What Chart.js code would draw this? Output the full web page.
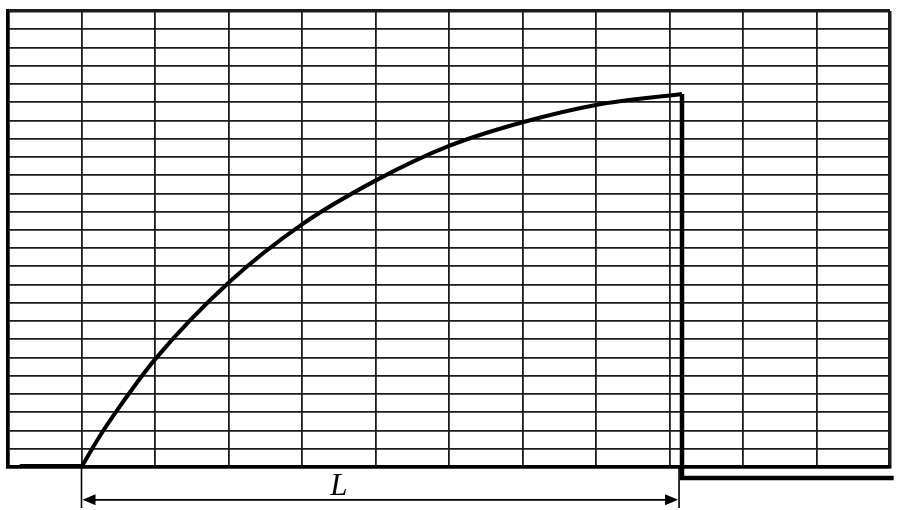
<!DOCTYPE html>
<html>
<head>
<meta charset="utf-8">
<script src="https://cdn.jsdelivr.net/npm/chart.js@4/dist/chart.umd.min.js"></script>
<style>
  html, body { margin: 0; padding: 0; background: #ffffff; }
  #wrap { width: 908px; height: 510px; }
</style>
</head>
<body>
<div id="wrap"><canvas id="c" width="908" height="510"></canvas></div>
<script>
// ---- data (grid units: 12 columns x 25 rows) ----
const xMin = 0, xMax = 12;
const yMin = 0, yMax = 25;

const curveX = [1, 1.25, 1.5, 2, 3, 4, 5, 6, 7, 8, 9.17];
const curveY = [0, 1.7, 3.2, 5.9, 10.1, 13.3, 15.7, 17.6, 18.9, 19.85, 20.45];

const leadX = [0.16, 1];
const leadY = [0.05, 0.05];

const dropX = [9.17, 9.17, 12.05];
const dropY = [20.45, -0.6, -0.6];

const dimX = [1.0, 9.13];      // dimension arrow ends
const dimY = [-1.8, -1.8];
const extTop = 0, extBottom = -2.25;   // extension lines
const dimLabel = 'L';
const dimLabelAt = [4.5, -1.1];

const pts = (xs, ys) => xs.map((x, i) => ({ x: x, y: ys[i] }));

const dimPlugin = {
  id: 'dimension',
  afterDatasetsDraw(chart) {
    const ctx = chart.ctx;
    const xs = chart.scales.x, ys = chart.scales.y;
    const x1 = xs.getPixelForValue(dimX[0]);
    const x2 = xs.getPixelForValue(dimX[1]);
    const yA = ys.getPixelForValue(dimY[0]);
    const yT = ys.getPixelForValue(extTop);
    const yB = ys.getPixelForValue(extBottom);
    ctx.save();
    ctx.strokeStyle = '#000';
    ctx.fillStyle = '#000';
    ctx.lineWidth = 1.6;
    ctx.beginPath();
    ctx.moveTo(x1, yT); ctx.lineTo(x1, yB);
    ctx.moveTo(x2, yT); ctx.lineTo(x2, yB);
    ctx.moveTo(x1 + 4, yA); ctx.lineTo(x2 - 4, yA);
    ctx.stroke();
    const L = 13, W = 5.5;
    ctx.beginPath();
    ctx.moveTo(x1 + 1, yA); ctx.lineTo(x1 + 1 + L, yA - W); ctx.lineTo(x1 + 1 + L, yA + W); ctx.closePath();
    ctx.fill();
    ctx.beginPath();
    ctx.moveTo(x2 - 1, yA); ctx.lineTo(x2 - 1 - L, yA - W); ctx.lineTo(x2 - 1 - L, yA + W); ctx.closePath();
    ctx.fill();
    ctx.font = 'italic 31px "Liberation Serif", "DejaVu Serif", serif';
    ctx.textAlign = 'center';
    ctx.textBaseline = 'middle';
    ctx.fillText(dimLabel, xs.getPixelForValue(dimLabelAt[0]), ys.getPixelForValue(dimLabelAt[1]));
    ctx.restore();
  }
};

const edgeWidth = (max) => (c) => (c.tick && (c.tick.value === max || c.tick.value === 0)) ? 3.5 : 1.8;

new Chart(document.getElementById('c'), {
  type: 'line',
  data: {
    datasets: [
      {
        data: pts(curveX, curveY),
        borderColor: '#000', borderWidth: 4,
        pointRadius: 0, fill: false,
        cubicInterpolationMode: 'monotone',
        clip: false
      },
      {
        data: pts(leadX, leadY),
        borderColor: '#000', borderWidth: 4,
        pointRadius: 0, fill: false, tension: 0,
        clip: false
      },
      {
        data: pts(dropX, dropY),
        borderColor: '#000', borderWidth: 4.5,
        pointRadius: 0, fill: false, tension: 0,
        borderJoinStyle: 'miter',
        clip: false
      }
    ]
  },
  options: {
    responsive: false,
    devicePixelRatio: 1,
    animation: false,
    layout: { padding: { left: 8, top: 11, right: 18, bottom: 43 } },
    plugins: { legend: { display: false }, tooltip: { enabled: false }, title: { display: false } },
    scales: {
      x: {
        type: 'linear', min: xMin, max: xMax,
        ticks: { display: false, stepSize: 1 },
        grid: { color: '#1c1c1c', lineWidth: edgeWidth(xMax), drawTicks: false, tickLength: 0 },
        border: { display: true, color: '#000', width: 3.5 }
      },
      y: {
        type: 'linear', min: yMin, max: yMax,
        ticks: { display: false, stepSize: 1 },
        grid: { color: '#1c1c1c', lineWidth: edgeWidth(yMax), drawTicks: false, tickLength: 0 },
        border: { display: true, color: '#000', width: 3.5 }
      }
    }
  },
  plugins: [dimPlugin]
});
</script>
</body>
</html>
